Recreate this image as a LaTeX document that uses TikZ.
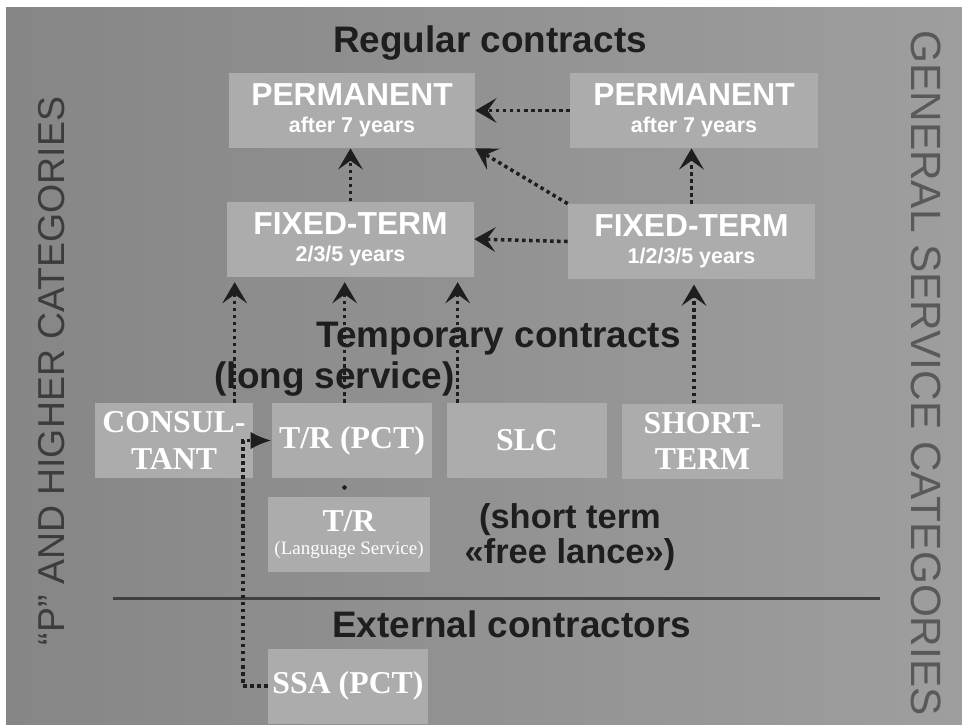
\documentclass[tikz,border=0pt]{standalone}
\usepackage{fontspec}
\setmainfont{Liberation Serif}
\setsansfont{Liberation Sans}
\usetikzlibrary{arrows.meta,calc}

\definecolor{bgleft}{RGB}{134,134,134}
\definecolor{bgright}{RGB}{158,158,158}
\definecolor{boxfill}{RGB}{172,172,172}
\definecolor{ink}{RGB}{30,30,30}
\definecolor{sideink}{RGB}{60,60,60}

\tikzset{
  regbox/.style={fill=boxfill, minimum height=1.5cm, inner sep=0pt, text=white, align=center,
    font=\sffamily\bfseries\fontsize{18.1}{20}\selectfont},
  tempbox/.style={fill=boxfill, minimum height=1.5cm, minimum width=3.2cm, inner sep=0pt, text=white, align=center,
    font=\rmfamily\bfseries\fontsize{18.1}{21}\selectfont},
  heading/.style={text=ink, inner sep=0pt, font=\sffamily\bfseries\fontsize{21}{24}\selectfont},
  sidelabel/.style={text=sideink, inner sep=0pt, font=\sffamily},
  conn/.style={ink, line width=2pt, dash pattern=on 2pt off 2pt, -{Stealth[length=12pt,width=14pt,inset=5pt]}},
}
\newcommand{\subline}[1]{{\fontsize{12.2}{14}\selectfont #1}}

\begin{document}
\begin{tikzpicture}[x=0.02cm, y=-0.02cm]

% BACKGROUND
\fill [white] (0,0) rectangle (962,724);
\shade [left color=bgleft, right color=bgright] (6,7) rectangle (962,724);
\useasboundingbox (0,0) rectangle (962,724);

% REGULAR CONTRACTS
\node [heading, anchor=base] (regular) at (490,52) {Regular contracts};
\node [regbox, minimum width=4.92cm] (permL) at (352,110.5) {PERMANENT\\[-4.7pt]\subline{after 7 years}};
\node [regbox, minimum width=4.96cm] (permR) at (694,110.5) {PERMANENT\\[-4.7pt]\subline{after 7 years}};
\node [regbox, minimum width=4.94cm] (fixL) at (350.5,239) {FIXED-TERM\\[-4.7pt]\subline{2/3/5 years}};
\node [regbox, minimum width=4.94cm] (fixR) at (691.5,241.5) {FIXED-TERM\\[-4.7pt]\subline{1/2/3/5 years}};

% TEMPORARY CONTRACTS
\node [heading, anchor=base] (temporary) at (498.5,347) {Temporary contracts};
\node [heading, anchor=base] (longserv) at (334.5,388) {(long service)};
\node [tempbox, minimum width=3.16cm] (cons) at (174,440.5) {CONSUL-\\TANT};
\node [tempbox] (trpct) at (352,440.5) {T/R (PCT)};
\node [tempbox] (slc) at (527,440.5) {SLC};
\node [tempbox, minimum width=3.22cm] (short) at (702.5,441) {SHORT-\\TERM};
\node [tempbox, minimum width=3.24cm] (trls) at (349,534.5)
  {T/R\\[-8pt]{\mdseries\fontsize{10.8}{13}\selectfont (Language Service)}};
\node [heading, align=center, font=\sffamily\bfseries\fontsize{19.6}{20}\selectfont] (freelance) at (570,537)
  {(short term\\«free lance»)};

% EXTERNAL CONTRACTORS
\draw [ink!85, line width=1.7pt] (113,598) -- (880,598);
\node [heading, anchor=base] (external) at (511.5,637) {External contractors};
\node [tempbox] (ssa) at (348,686) {SSA (PCT)};

% SIDE LABELS
\node [sidelabel, rotate=90, font=\sffamily\fontsize{21.3}{24}\selectfont] (profcat) at (52,371) {“P” AND HIGHER CATEGORIES};
\node [sidelabel, rotate=-90, text=sideink!85, font=\sffamily\fontsize{24.1}{28}\selectfont] (gencat) at (926,373) {GENERAL SERVICE CATEGORIES};

% ARROWS
\coordinate (inC) at ($(fixL.south west)+(8,0)$);
\coordinate (inT) at ($(fixL.south west)+(118,0)$);
\coordinate (inS) at ($(fixL.south west)+(231,0)$);
\coordinate (bend) at (243,686);

\draw [conn] (permR.west) -- (permL.east);
\draw [conn] (fixR.north west) -- (permL.south east);
\draw [conn] (fixR.west) -- (fixL.east);
\draw [conn] (fixL.north) -- (fixL.north |- permL.south);
\draw [conn] (fixR.north) -- (fixR.north |- permR.south);
\draw [conn, shorten >=3pt] (short.north -| permR) -- (fixR.south -| permR);
\draw [conn, shorten >=3pt] (cons.north -| inC) -- (inC);
\draw [conn, shorten >=3pt] (trpct.north -| inT) -- (inT);
\draw [conn, shorten >=3pt] (slc.north -| inS) -- (inS);
\draw [conn, -{Latex[length=12pt,width=10pt]}] (ssa.west) -- (bend) |- (trpct.west);
\fill [ink] ($(trpct.south)!0.5!(trls.north)+(-6,0)$) circle (1.3pt);

\end{tikzpicture}
\end{document}
